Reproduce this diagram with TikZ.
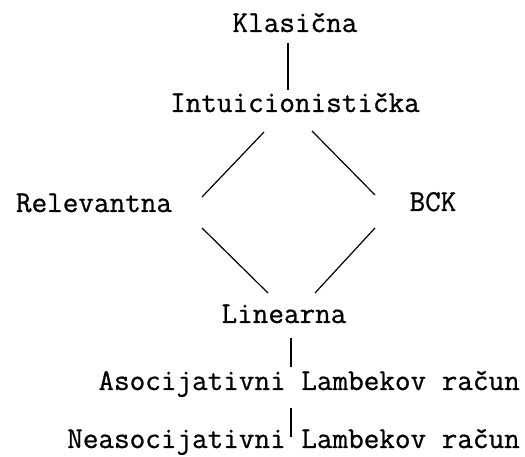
\documentclass[tikz,border=0pt]{standalone}
\usepackage{fontspec}
\newfontfamily\monofont[FakeBold=0.8]{Latin Modern Mono}
\usetikzlibrary{calc}
\begin{document}
\begin{tikzpicture}[x=1pt,y=1pt,
  lbl/.style={inner sep=0pt, font=\monofont\fontsize{30.3}{34}\selectfont},
  conn/.style={line width=1.2pt}]
\useasboundingbox (0,0) rectangle (525,457);
\node[lbl, anchor=base] (kl) at (295,425) {Klasična};
\node[lbl, anchor=base] (in) at (295,345) {Intuicionistička};
\node[lbl, anchor=base] (re) at (94,245) {Relevantna};
\node[lbl, anchor=base] (bck) at (433,246) {BCK};
\node[lbl, anchor=base] (li) at (284,134) {Linearna};
\node[lbl, anchor=base east] (as) at (520,67) {Asocijativni Lambekov račun};
\node[lbl, anchor=base east] (ne) at (520,9) {Neasocijativni Lambekov račun};
\draw[conn] ($(kl.base)+(-7,-11)$) -- ($(in.base)+(-7,22)$);
\draw[conn] ($(in.base)+(-31,-20)$) -- ($(re.base)+(108,15)$);
\draw[conn] ($(in.base)+(17,-19)$) -- ($(bck.base)+(-58,16)$);
\draw[conn] ($(re.base)+(108,-16)$) -- ($(li.base)+(-16,30)$);
\draw[conn] ($(bck.base)+(-58,-17)$) -- ($(li.base)+(31,30)$);
\draw[conn] ($(li.base)+(7,-15)$) -- ($(as.base east)+(-229,23)$);
\draw[conn] ($(as.base east)+(-229,-18)$) -- ($(ne.base east)+(-229,11)$);
\end{tikzpicture}
\end{document}
